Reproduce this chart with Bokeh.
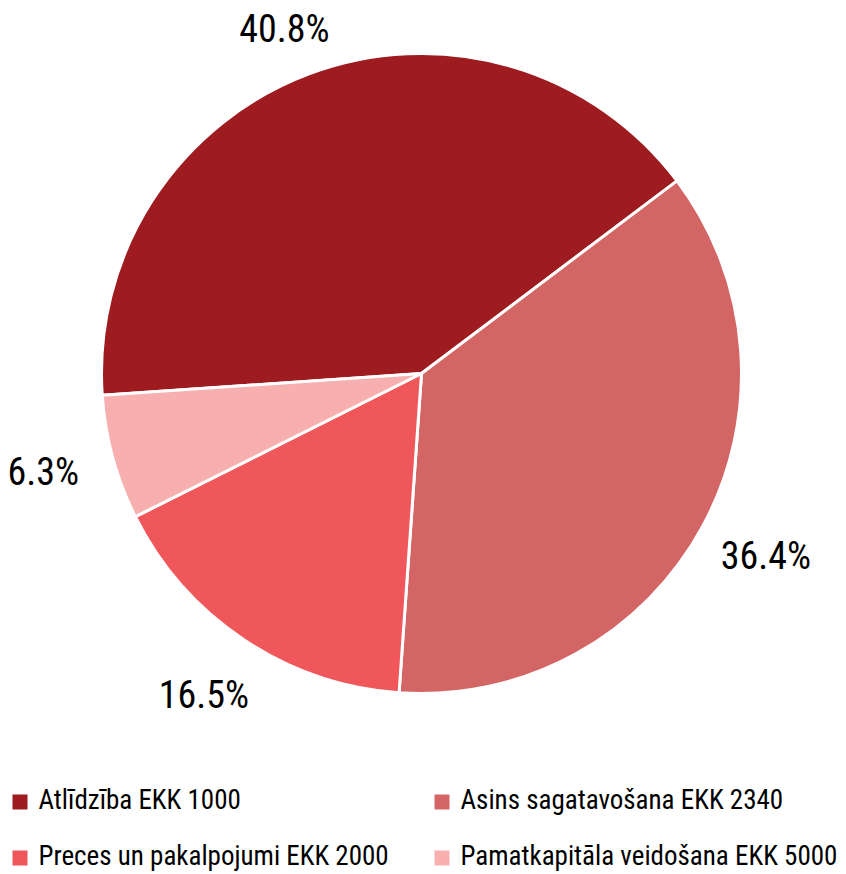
import math
from bokeh.plotting import figure
from bokeh.models import ColumnDataSource, Range1d
from bokeh.core.properties import value
from bokeh.embed import file_html
from bokeh.resources import INLINE

# ---- data ----
categories = [
    "Atlīdzība EKK 1000",
    "Asins sagatavošana EKK 2340",
    "Preces un pakalpojumi EKK 2000",
    "Pamatkapitāla veidošana EKK 5000",
]
shares = [40.8, 36.4, 16.5, 6.3]
share_labels = ["40.8%", "36.4%", "16.5%", "6.3%"]
colors = ["#9E1B20", "#D46565", "#F0575A", "#F7AFAF"]

# ---- layout / style ----
W, H = 846, 874
CX, CY, R = 421, H - 373, 320
START_DEG = 183.9          # first slice starts here, slices run clockwise
LABEL_R = 1.225 * R
FONT = "Roboto Condensed"
TOP_LIMIT = H - 33

total = sum(shares)
starts, ends, lx, ly = [], [], [], []
acc = 0.0
for s in shares:
    a_hi = math.radians(START_DEG) - acc / total * 2 * math.pi
    a_lo = a_hi - s / total * 2 * math.pi
    starts.append(a_lo)
    ends.append(a_hi)
    mid = (a_lo + a_hi) / 2
    lx.append(CX + LABEL_R * math.cos(mid))
    ly.append(min(CY + LABEL_R * math.sin(mid), TOP_LIMIT))
    acc += s

src = ColumnDataSource(dict(start=starts, end=ends, color=colors,
                            lx=lx, ly=ly, lab=share_labels))

p = figure(width=W, height=H, output_backend="svg", toolbar_location=None,
           x_range=Range1d(0, W), y_range=Range1d(0, H),
           x_axis_location=None, y_axis_location=None,
           min_border=0, outline_line_color=None)
p.grid.visible = False
p.background_fill_color = "white"
p.border_fill_color = "white"

p.wedge(x=CX, y=CY, radius=R, start_angle="start", end_angle="end",
        fill_color="color", line_color="white", line_width=3, source=src)

p.text(x="lx", y="ly", text="lab", source=src, text_align="center",
       text_baseline="middle", y_offset=-5, text_font=value(FONT),
       text_font_size="38px", text_color="#000000")

# ---- legend (2 columns, row-major) ----
LEG_X0, LEG_DX = 19.5, 422
LEG_Y0, LEG_DY = H - 801.5, 56
mx, my, tx, ty = [], [], [], []
for i, _ in enumerate(categories):
    col, row = i % 2, i // 2
    mx.append(LEG_X0 + col * LEG_DX)
    my.append(LEG_Y0 - row * LEG_DY)
    tx.append(LEG_X0 + col * LEG_DX + 18.5)
    ty.append(LEG_Y0 - row * LEG_DY)
leg = ColumnDataSource(dict(mx=mx, my=my, tx=tx, ty=ty, name=categories, color=colors))
p.rect(x="mx", y="my", width=15, height=15, fill_color="color", line_color=None, source=leg)
p.text(x="tx", y="ty", text="name", source=leg, text_align="left",
       text_baseline="middle", y_offset=-2, text_font=value(FONT),
       text_font_size="27px", text_color="#000000")

open("out.html", "w").write(file_html(p, INLINE))
